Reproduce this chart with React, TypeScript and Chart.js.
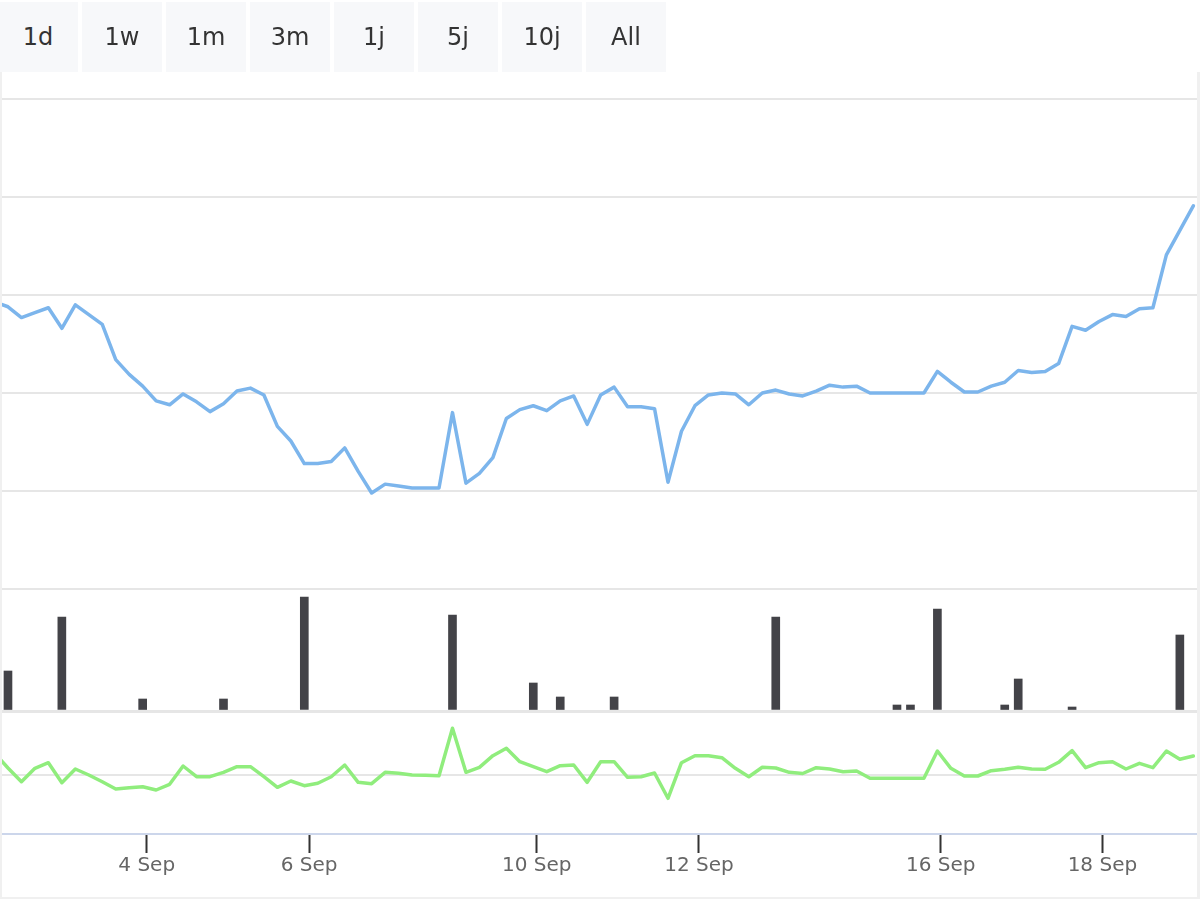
import React, { useEffect, useRef } from 'react';
import { Chart, registerables } from 'chart.js';

Chart.register(...registerables);

// Range selector labels
const rangeButtons = ['1d', '1w', '1m', '3m', '1j', '5j', '10j', 'All'];

// Price series (one value per point, point index 0..89)
const priceValues = [
  12.93, 12.88, 12.77, 12.82, 12.87, 12.66, 12.90, 12.80, 12.70, 12.34,
  12.19, 12.07, 11.92, 11.88, 11.99, 11.91, 11.81, 11.89, 12.02, 12.05,
  11.98, 11.66, 11.51, 11.28, 11.28, 11.30, 11.44, 11.20, 10.98, 11.07,
  11.05, 11.03, 11.03, 11.03, 11.80, 11.08, 11.18, 11.34, 11.74, 11.83,
  11.87, 11.82, 11.92, 11.97, 11.68, 11.98, 12.06, 11.86, 11.86, 11.84,
  11.09, 11.61, 11.87, 11.98, 12.00, 11.99, 11.88, 12.00, 12.03, 11.99,
  11.97, 12.02, 12.08, 12.06, 12.07, 12.00, 12.00, 12.00, 12.00, 12.00,
  12.22, 12.11, 12.01, 12.01, 12.07, 12.11, 12.23, 12.21, 12.22, 12.30,
  12.68, 12.64, 12.73, 12.80, 12.78, 12.86, 12.87, 13.41, 13.66, 13.91,
];

// Change series (lower panel)
const changeValues = [
  2.2, 0.7, -0.67, 0.67, 1.23, -0.77, 0.6, 0.0, -0.67, -1.4,
  -1.27, -1.17, -1.5, -0.93, 0.9, -0.17, -0.17, 0.27, 0.83, 0.83,
  -0.17, -1.23, -0.6, -1.07, -0.83, -0.17, 1.0, -0.73, -0.87, 0.27,
  0.17, 0.0, -0.03, -0.07, 4.67, 0.27, 0.77, 1.93, 2.67, 1.33,
  0.83, 0.33, 0.93, 1.0, -0.73, 1.33, 1.33, -0.23, -0.17, 0.2,
  -2.33, 1.23, 1.93, 1.93, 1.73, 0.67, -0.17, 0.77, 0.7, 0.27,
  0.15, 0.73, 0.6, 0.33, 0.4, -0.33, -0.33, -0.33, -0.33, -0.33,
  2.4, 0.67, -0.1, -0.1, 0.43, 0.57, 0.77, 0.6, 0.57, 1.27,
  2.43, 0.73, 1.23, 1.33, 0.6, 1.17, 0.73, 2.4, 1.57, 1.9,
];

// Volume (only non-zero points)
const volumeIndex = [1, 5, 11, 17, 23, 34, 40, 42, 46, 58, 67, 68, 70, 75, 76, 80, 88];
const volumeValues = [4000, 9400, 1200, 1200, 11400, 9600, 2800, 1400, 1400, 9400, 600, 600, 10200, 600, 3200, 400, 7600];

// Date ticks (position in point index units) and labels
const dateTickPositions = [11.3, 23.35, 40.25, 52.3, 70.25, 82.25];
const dateTickLabels = ['4 Sep', '6 Sep', '10 Sep', '12 Sep', '16 Sep', '18 Sep'];

const FONT = "'DejaVu Sans', sans-serif";

export default function App() {
  const canvasRef = useRef<HTMLCanvasElement | null>(null);

  useEffect(() => {
    const canvas = canvasRef.current;
    if (!canvas) return;
    const idx = priceValues.map((_, i) => i);
    const chart = new Chart(canvas, {
      type: 'line',
      data: {
        datasets: [
          {
            type: 'line',
            data: idx.map((i) => ({ x: i, y: priceValues[i] })),
            borderColor: '#7cb5ec',
            borderWidth: 3.5,
            pointRadius: 0,
            tension: 0,
            borderJoinStyle: 'round',
            borderCapStyle: 'round',
            xAxisID: 'x',
            yAxisID: 'yMain',
          },
          {
            type: 'bar',
            data: volumeIndex.map((k, j) => ({ x: k, y: volumeValues[j] })),
            backgroundColor: '#434348',
            barThickness: 8,
            xAxisID: 'x',
            yAxisID: 'yVol',
          },
          {
            type: 'line',
            data: idx.map((i) => ({ x: i, y: changeValues[i] })),
            borderColor: '#90ed7d',
            borderWidth: 3.5,
            pointRadius: 0,
            tension: 0,
            borderJoinStyle: 'round',
            borderCapStyle: 'round',
            xAxisID: 'x',
            yAxisID: 'yChg',
          },
        ] as any,
      },
      options: {
        responsive: false,
        animation: false,
        events: [],
        layout: { padding: { top: 99, left: 0, right: 0, bottom: 0 }, autoPadding: false },
        plugins: { legend: { display: false }, tooltip: { enabled: false } },
        scales: {
          x: {
            type: 'linear',
            position: 'bottom',
            offset: false,
            min: 0.408,
            max: 89.496,
            afterBuildTicks: (s: any) => {
              s.ticks = dateTickPositions.map((v) => ({ value: v }));
            },
            afterFit: (s: any) => {
              s.height = 66;
            },
            ticks: {
              autoSkip: false,
              maxRotation: 0,
              padding: 1,
              color: '#666666',
              font: { family: FONT, size: 20 },
              callback: (_v: any, i: number) => dateTickLabels[i],
            },
            grid: {
              offset: false,
              drawOnChartArea: false,
              drawTicks: true,
              tickLength: 19,
              tickColor: '#333333',
              tickWidth: 2,
            },
            border: { display: true, color: '#ccd6eb', width: 2 },
          },
          yChg: {
            type: 'linear',
            position: 'left',
            stack: 'panels',
            stackWeight: 123,
            min: -5.9,
            max: 6.4,
            afterBuildTicks: (s: any) => {
              s.ticks = [{ value: 0 }];
            },
            afterFit: (s: any) => {
              s.width = 0;
            },
            ticks: { display: false },
            grid: { color: '#e6e6e6', lineWidth: 2, drawTicks: false },
            border: { display: false },
          },
          yVol: {
            type: 'linear',
            position: 'left',
            stack: 'panels',
            stackWeight: 122,
            min: 0,
            max: 12200,
            afterBuildTicks: (s: any) => {
              s.ticks = [{ value: 0 }];
            },
            afterFit: (s: any) => {
              s.width = 0;
            },
            ticks: { display: false },
            grid: { color: '#e6e6e6', lineWidth: 3, drawTicks: false },
            border: { display: false },
          },
          yMain: {
            type: 'linear',
            position: 'left',
            stack: 'panels',
            stackWeight: 490,
            min: 10,
            max: 15,
            afterBuildTicks: (s: any) => {
              s.ticks = [10, 11, 12, 13, 14, 15].map((v) => ({ value: v }));
            },
            afterFit: (s: any) => {
              s.width = 0;
            },
            ticks: { display: false },
            grid: { color: '#e6e6e6', lineWidth: 2, drawTicks: false },
            border: { display: false },
          },
        },
      } as any,
    });
    return () => chart.destroy();
  }, []);

  return (
    <div
      style={{
        position: 'absolute',
        left: 0,
        top: 0,
        width: 1200,
        height: 900,
        background: '#ffffff',
        overflow: 'hidden',
      }}
    >
      <canvas
        ref={canvasRef}
        width={1200}
        height={900}
        style={{ position: 'absolute', left: 0, top: 0, width: 1200, height: 900, display: 'block' }}
      />
      <div
        style={{
          position: 'absolute',
          left: 0,
          top: 72,
          width: 1200,
          height: 827,
          boxSizing: 'border-box',
          borderLeft: '2px solid #f0f0f0',
          borderRight: '3px solid #f0f0f0',
          borderBottom: '2px solid #f0f0f0',
          pointerEvents: 'none',
        }}
      />
      {rangeButtons.map((b, i) => (
        <div
          key={b}
          style={{
            position: 'absolute',
            left: i * 84 - 2,
            top: 2,
            width: 80,
            height: 70,
            background: '#f7f8fa',
            color: '#333333',
            fontFamily: FONT,
            fontSize: 24,
            display: 'flex',
            alignItems: 'center',
            justifyContent: 'center',
            boxSizing: 'border-box',
            paddingBottom: 1,
          }}
        >
          {b}
        </div>
      ))}
    </div>
  );
}
